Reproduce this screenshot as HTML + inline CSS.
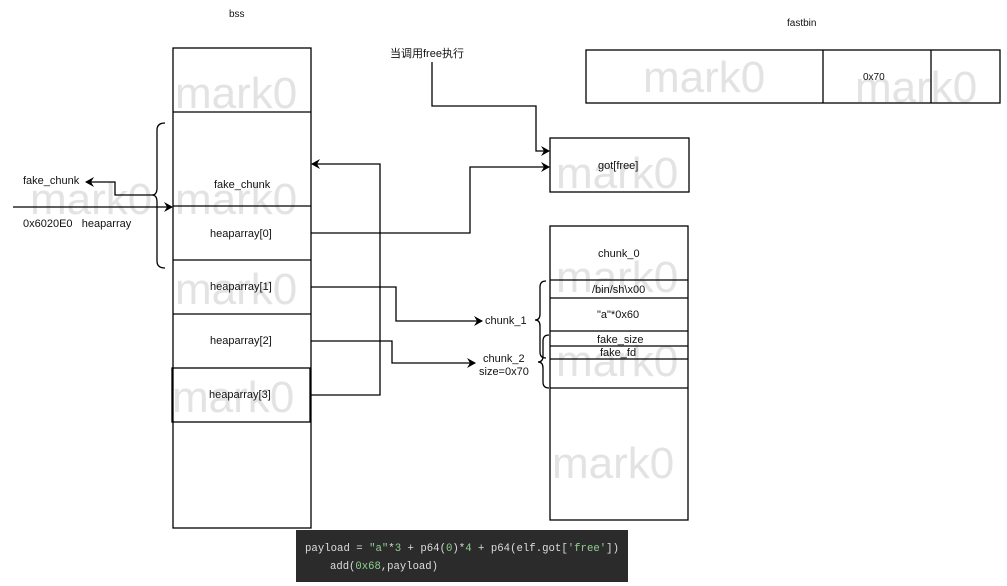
<!DOCTYPE html>
<html><head><meta charset="utf-8"><style>
html,body{margin:0;padding:0;background:#fff;}
svg{display:block;font-family:"Liberation Sans","Noto Sans CJK SC",sans-serif;}
.wm{fill:#e3e3e3;font-size:44px;}
.t{font-size:11px;fill:#111;}
.code{font-family:"Liberation Mono","DejaVu Sans Mono",monospace;font-size:11px;fill:#ddd;}
</style></head><body>
<svg width="1007" height="586" viewBox="0 0 1007 586">
<defs>
<marker id="a" markerWidth="10" markerHeight="10" refX="8" refY="5" orient="auto" markerUnits="userSpaceOnUse">
<path d="M0,0 L9,5 L0,10 L3,5 Z" fill="#000"/></marker>
</defs>
<g class="wm">
<text x="175" y="108">mark0</text>
<text x="30" y="214">mark0</text>
<text x="175" y="214">mark0</text>
<text x="175" y="304">mark0</text>
<text x="172" y="412">mark0</text>
<text x="643" y="92">mark0</text>
<text x="855" y="102">mark0</text>
<text x="556" y="188">mark0</text>
<text x="556" y="292">mark0</text>
<text x="556" y="376">mark0</text>
<text x="552" y="478">mark0</text>
</g>
<g fill="none" stroke="#000" stroke-width="1.3">
<rect x="173" y="48" width="138" height="480"/>
<line x1="173" y1="112" x2="311" y2="112"/>
<line x1="173" y1="206" x2="311" y2="206"/>
<line x1="173" y1="260" x2="311" y2="260"/>
<line x1="173" y1="314" x2="311" y2="314"/>
<rect x="172" y="368" width="138" height="54"/>
<rect x="550" y="138" width="139" height="54"/>
<rect x="586" y="50" width="414" height="53"/>
<line x1="823" y1="50" x2="823" y2="103"/>
<line x1="931" y1="50" x2="931" y2="103"/>
<rect x="550" y="226" width="138" height="294"/>
<line x1="550" y1="280" x2="688" y2="280"/>
<line x1="550" y1="298" x2="688" y2="298"/>
<line x1="550" y1="331" x2="688" y2="331"/>
<line x1="550" y1="346" x2="688" y2="346"/>
<line x1="550" y1="359" x2="688" y2="359"/>
<line x1="550" y1="388" x2="688" y2="388"/>
<path d="M165,123 Q157,123 157,130 L157,188 Q157,195 152,195 Q157,195 157,202 L157,261 Q157,268 165,268"/>
<path d="M546,281 Q540,281 540,287 L540,314 Q540,320 535,320 Q540,320 540,326 L540,352 Q540,358 546,358"/>
<path d="M549,335 Q543,335 543,341 L543,356 Q543,362 538,362 Q543,362 543,368 L543,382 Q543,388 549,388"/>
<polyline points="152,195 115,195 115,182 86,182" marker-end="url(#a)"/>
<polyline points="13,207 172,207" marker-end="url(#a)"/>
<polyline points="311,395 380,395 380,164 312,164" marker-end="url(#a)"/>
<polyline points="311,233 470,233 470,167 549,167" marker-end="url(#a)"/>
<polyline points="311,287 396,287 396,321 482,321" marker-end="url(#a)"/>
<polyline points="311,341 392,341 392,363 475,363" marker-end="url(#a)"/>
<polyline points="432,62 432,106 536,106 536,151 549,151" marker-end="url(#a)"/>
</g>
<g class="t">
<text x="229" y="17" font-size="10">bss</text>
<text x="787" y="26" font-size="10">fastbin</text>
<text x="390" y="57">当调用free执行</text>
<text x="23" y="184">fake_chunk</text>
<text x="23" y="227">0x6020E0&#160;&#160;&#160;heaparray</text>
<text x="214" y="188">fake_chunk</text>
<text x="210" y="237">heaparray[0]</text>
<text x="210" y="290">heaparray[1]</text>
<text x="210" y="344">heaparray[2]</text>
<text x="209" y="398">heaparray[3]</text>
<text x="598" y="169">got[free]</text>
<text x="863" y="80" font-size="10">0x70</text>
<text x="598" y="257">chunk_0</text>
<text x="592" y="293">/bin/sh\x00</text>
<text x="597" y="318">"a"*0x60</text>
<text x="597" y="343">fake_size</text>
<text x="600" y="356">fake_fd</text>
<text x="485" y="324">chunk_1</text>
<text x="483" y="362">chunk_2</text>
<text x="479" y="375">size=0x70</text>
</g>
<rect x="296" y="530" width="332" height="52" fill="#2b2b2b"/>
<text class="code" x="305" y="551" textLength="314" lengthAdjust="spacingAndGlyphs">payload = <tspan fill="#8fd08f">"a"</tspan>*<tspan fill="#8fd08f">3</tspan> + p64(<tspan fill="#8fd08f">0</tspan>)*<tspan fill="#8fd08f">4</tspan> + p64(elf.got[<tspan fill="#8fd08f">'free'</tspan>])</text>
<text class="code" x="330" y="569" textLength="108" lengthAdjust="spacingAndGlyphs">add(<tspan fill="#8fd08f">0x68</tspan>,payload)</text>
</svg>
</body></html>
